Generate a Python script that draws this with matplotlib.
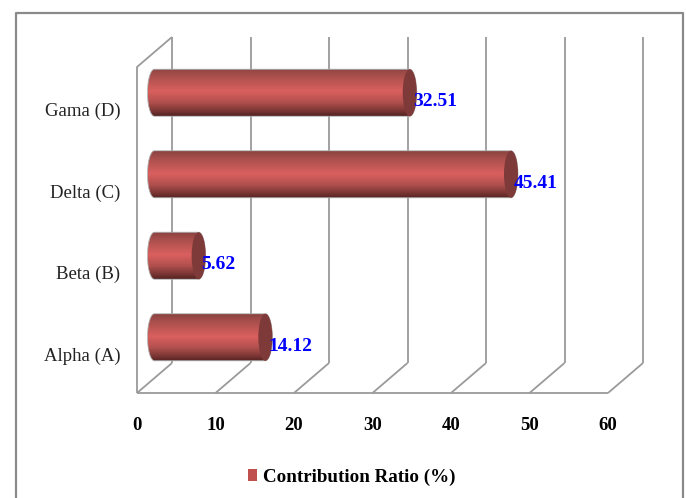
#!/usr/bin/env python3
# -*- coding: utf-8 -*-
import numpy as np
import matplotlib.pyplot as plt
from matplotlib.colors import LinearSegmentedColormap
from matplotlib.patches import Ellipse, Patch, PathPatch
from matplotlib.path import Path
from matplotlib.transforms import ScaledTranslation

categories = ["Alpha (A)", "Beta (B)", "Delta (C)", "Gama (D)"]
contribution = [14.12, 5.62, 45.41, 32.51]
value_labels = ["14.12", "5.62", "45.41", "32.51"]
x_ticks = [0, 10, 20, 30, 40, 50, 60]

W, H = 686, 498
LEFT, RIGHT, BOTTOM, TOP = 137, 608, 393, 67

# depth of the fake 3D box, in data units
DX = 35 / ((RIGHT - LEFT) / 60)
DY = 30 / ((BOTTOM - TOP) / 4)
# size of the cylinder ends
CAP_W = 14 / ((RIGHT - LEFT) / 60)
CAP_H = 47 / ((BOTTOM - TOP) / 4)

GRID = "#9a9a9a"
FRAME = "#8a8a8a"
SERIF = "Liberation Serif"

shade = LinearSegmentedColormap.from_list(
    "cyl", [(0, "#8c4341"), (0.15, "#a84f4c"), (0.48, "#da605e"),
            (0.72, "#b0504e"), (0.9, "#7a3533"), (1, "#562422")])

fig = plt.figure(figsize=(W / 100, H / 100), dpi=100)
ax = fig.add_axes([LEFT / W, 1 - BOTTOM / H, (RIGHT - LEFT) / W, (BOTTOM - TOP) / H])
ax.set_xlim(0, 60)
ax.set_ylim(-0.5, 3.5)
for s in ax.spines.values():
    s.set_visible(False)
ax.patch.set_alpha(0)

# outer chart border, open at the bottom
fig.add_artist(plt.Line2D([15.5 / W, 15.5 / W, 683 / W, 683 / W],
                          [0, 1 - 13 / H, 1 - 13 / H, 0],
                          color=FRAME, lw=1.6))


def line(xs, ys, z=1):
    ax.plot(xs, ys, color=GRID, lw=1.3, clip_on=False, zorder=z, solid_capstyle="butt")


# back wall gridlines and floor diagonals
for t in x_ticks:
    line([t, t + DX], [-0.5, -0.5 + DY])
    line([t + DX, t + DX], [-0.5 + DY, 3.5 + DY])
# side wall and floor front edge
line([0, 0, DX], [-0.5, 3.5, 3.5 + DY])
line([0, 60], [-0.5, -0.5])

# cylinders
for i, v in enumerate(contribution):
    x0 = DX / 2
    y0 = i + DY / 2
    t = np.linspace(np.pi / 2, 3 * np.pi / 2, 40)
    left = np.c_[x0 + CAP_W / 2 * np.cos(t), y0 + CAP_H / 2 * np.sin(t)]
    right = np.c_[x0 + v + CAP_W / 2 * np.cos(t + np.pi), y0 + CAP_H / 2 * np.sin(t + np.pi)]
    outline = np.r_[left, right, left[:1]]
    clip = PathPatch(Path(outline), fc="none", ec="#a9a9a9", lw=0.6,
                     clip_on=False, zorder=3)
    ax.add_patch(clip)
    grad = ax.imshow(np.linspace(0, 1, 64).reshape(-1, 1), cmap=shade, aspect="auto",
                     extent=[x0 - CAP_W / 2, x0 + v + CAP_W / 2,
                             y0 - CAP_H / 2, y0 + CAP_H / 2],
                     origin="upper", zorder=2, interpolation="bilinear")
    grad.set_clip_path(clip)
    ax.add_patch(Ellipse((x0 + v, y0), CAP_W, CAP_H, fc="#7e3a38", ec="none", zorder=4,
                         clip_on=False))
    ax.text(x0 + v + 3 / 7.85, y0 - 9 / 81.5, value_labels[i], color="#0000ff",
            family=SERIF, weight="bold", fontsize=14, ha="left", va="center",
            clip_on=False, zorder=5)

ax.set_xlim(0, 60)
ax.set_ylim(-0.5, 3.5)
ax.set_xticks(x_ticks)
ax.set_xticklabels([str(t) for t in x_ticks], family=SERIF, weight="bold", fontsize=13.5)
ax.set_yticks(range(4))
ax.set_yticklabels(categories, family=SERIF, fontsize=13.5, color="#222222")
ax.tick_params(axis="x", length=0, pad=17)
ax.tick_params(axis="y", length=0, pad=12)
# category names sit a little below their tick position
for lab in ax.get_yticklabels():
    lab.set_transform(lab.get_transform() + ScaledTranslation(0, -2 / 100, fig.dpi_scale_trans))

ax.legend(handles=[Patch(fc="#c0504d", ec="none", label="Contribution Ratio (%)")],
          loc="center", bbox_to_anchor=(352 / W, 1 - 477 / H),
          bbox_transform=fig.transFigure, frameon=False, handlelength=0.48,
          handleheight=0.6, handletextpad=0.3,
          prop={"family": SERIF, "weight": "bold", "size": 13.7})

fig.savefig("out.png", dpi=100)
